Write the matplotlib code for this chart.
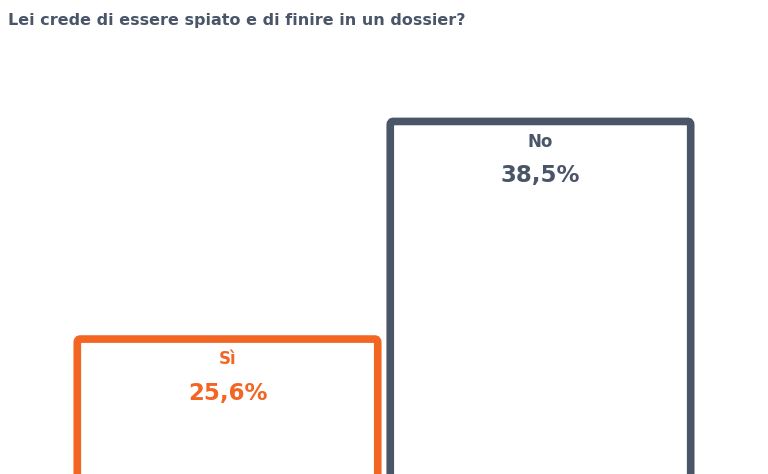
import matplotlib.pyplot as plt
from matplotlib.patches import FancyBboxPatch

# data
categories = ["Sì", "No"]
values = [25.6, 38.5]
labels = ["25,6%", "38,5%"]
colors = ["#f26522", "#4a5568"]

fig = plt.figure(figsize=(7.68, 4.74), dpi=100)
ax = fig.add_axes([0, 0, 1, 1])
ax.set_xlim(-0.727, 1.727)
ax.set_ylim(17.6, 45.7)
ax.axis("off")

width = 0.96
for i, (cat, val, lab, col) in enumerate(zip(categories, values, labels, colors)):
    box = FancyBboxPatch((i - width / 2, 0), width, val,
                         boxstyle="round,pad=0,rounding_size=0.01",
                         fill=False, edgecolor=col, linewidth=5.5,
                         mutation_aspect=20)
    ax.add_patch(box)
    ax.text(i, val - 1.2, cat, ha="center", va="center", color=col,
            fontsize=12, fontweight="bold", family="DejaVu Sans")
    ax.text(i, val - 3.2, lab, ha="center", va="center", color=col,
            fontsize=16.5, fontweight="bold", family="DejaVu Sans")

fig.text(0.01, 0.957, "Lei crede di essere spiato e di finire in un dossier?",
         ha="left", va="center", color="#4a5568", fontsize=11.5,
         fontweight="bold", family="DejaVu Sans")

fig.savefig("out.png", dpi=100)
